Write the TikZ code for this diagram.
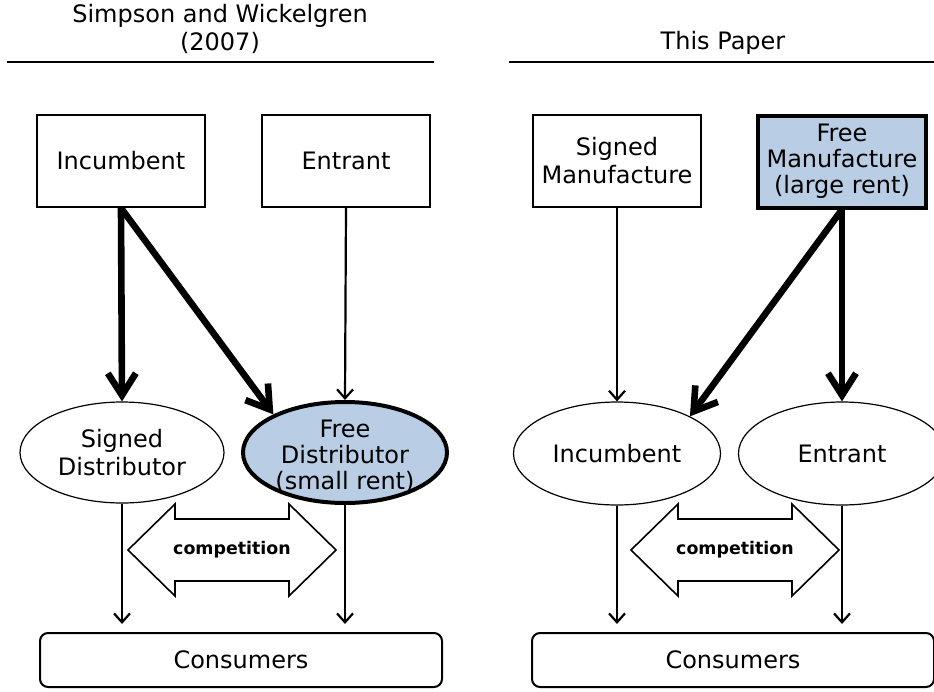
\documentclass[tikz,border=0pt]{standalone}
\usepackage{fontspec}
\setmainfont{DejaVu Sans}
\usetikzlibrary{arrows.meta,shapes.geometric}
\definecolor{rentblue}{RGB}{185,205,229}
\tikzset{
  every node/.style={font=\fontsize{12}{14}\selectfont},
  box/.style={draw, line width=1pt, minimum width=84pt, minimum height=46pt, inner sep=0pt, align=center},
  freebox/.style={box, line width=2pt, fill=rentblue, font=\fontsize{12}{13}\selectfont},
  oval/.style={draw, ellipse, line width=0.6pt, minimum width=102pt, minimum height=50.5pt, inner sep=0pt},
  freeoval/.style={oval, line width=2pt, fill=rentblue},
  market/.style={draw, line width=1pt, rounded corners=4pt, minimum width=201pt, minimum height=27pt},
  thinarr/.style={line width=1.1pt, -{Straight Barb[length=4.5pt,width=8pt]}},
  thickarr/.style={line width=3.3pt, -{Straight Barb[length=11pt,width=14pt]}},
  comp/.style={draw, line width=0.8pt, fill=white}
}
\begin{document}
\begin{tikzpicture}[x=0.5pt,y=-0.5pt]
  \useasboundingbox (0,0) rectangle (934,692);
  % headings
  \node[align=center] (headL) at (220,29) {Simpson and Wickelgren\\(2007)};
  \node (headR) at (723,43) {This Paper};
  \draw [line width=0.6pt] (7,62) -- (434,62);
  \draw [line width=0.6pt] (509,62) -- (934,62);

  % left panel
  \node[box] (incL) at (121,161) {Incumbent};
  \node[box] (entL) at (346,161) {Entrant};
  \node[oval, label={[align=center]center:Signed\\Distributor}] (signD) at (122,452.5) {};
  \node[freeoval, label={[align=center, yshift=-2pt, font=\fontsize{12}{13}\selectfont]center:Free\\Distributor\\(small rent)}] (freeD) at (345,452.5) {};
  \node[market] (consL) at (241,660) {Consumers};
  \draw [thickarr] (incL.south) -- (signD.north);
  \draw [thickarr] (incL.south) -- (freeD.152);
  \draw [thinarr] (entL.south) -- (freeD.north);
  \draw [thinarr, shorten >=4pt] (signD.south) -- (signD.south |- consL.north);
  \draw [thinarr, shorten >=4pt] (freeD.south) -- (freeD.south |- consL.north);

  % right panel
  \node[box] (signM) at (617,161) {Signed\\Manufacture};
  \node[freebox] (freeM) at (842,161.5) {\raisebox{-2pt}{\parbox{80pt}{\centering Free\\Manufacture\\(large rent)}}};
  \node[oval, minimum width=103.5pt, minimum height=51.5pt] (incR) at (617,453.5) {Incumbent};
  \node[oval, minimum width=103.5pt, minimum height=51.5pt] (entR) at (842,453.5) {Entrant};
  \node[market] (consR) at (733,660) {Consumers};
  \draw [thinarr] (signM.south) -- (incR.north);
  \draw [thickarr] (freeM.south) -- (incR.27);
  \draw [thickarr] (freeM.south) -- (entR.north);
  \draw [thinarr, shorten >=4pt] (incR.south) -- (incR.south |- consR.north);
  \draw [thinarr, shorten >=4pt] (entR.south) -- (entR.south |- consR.north);

  % competition arrows
  \foreach \cx in {232,735} {
    \draw [comp] (\cx,550) ++(-104,0) -- ++(47,-46) -- ++(0,15) -- ++(114,0) -- ++(0,-15)
      -- ++(47,46) -- ++(-47,46) -- ++(0,-15) -- ++(-114,0) -- ++(0,15) -- cycle;
    \node[font=\fontsize{8.7}{10}\bfseries] (comp\cx) at (\cx,550) {competition};
  }
\end{tikzpicture}
\end{document}
